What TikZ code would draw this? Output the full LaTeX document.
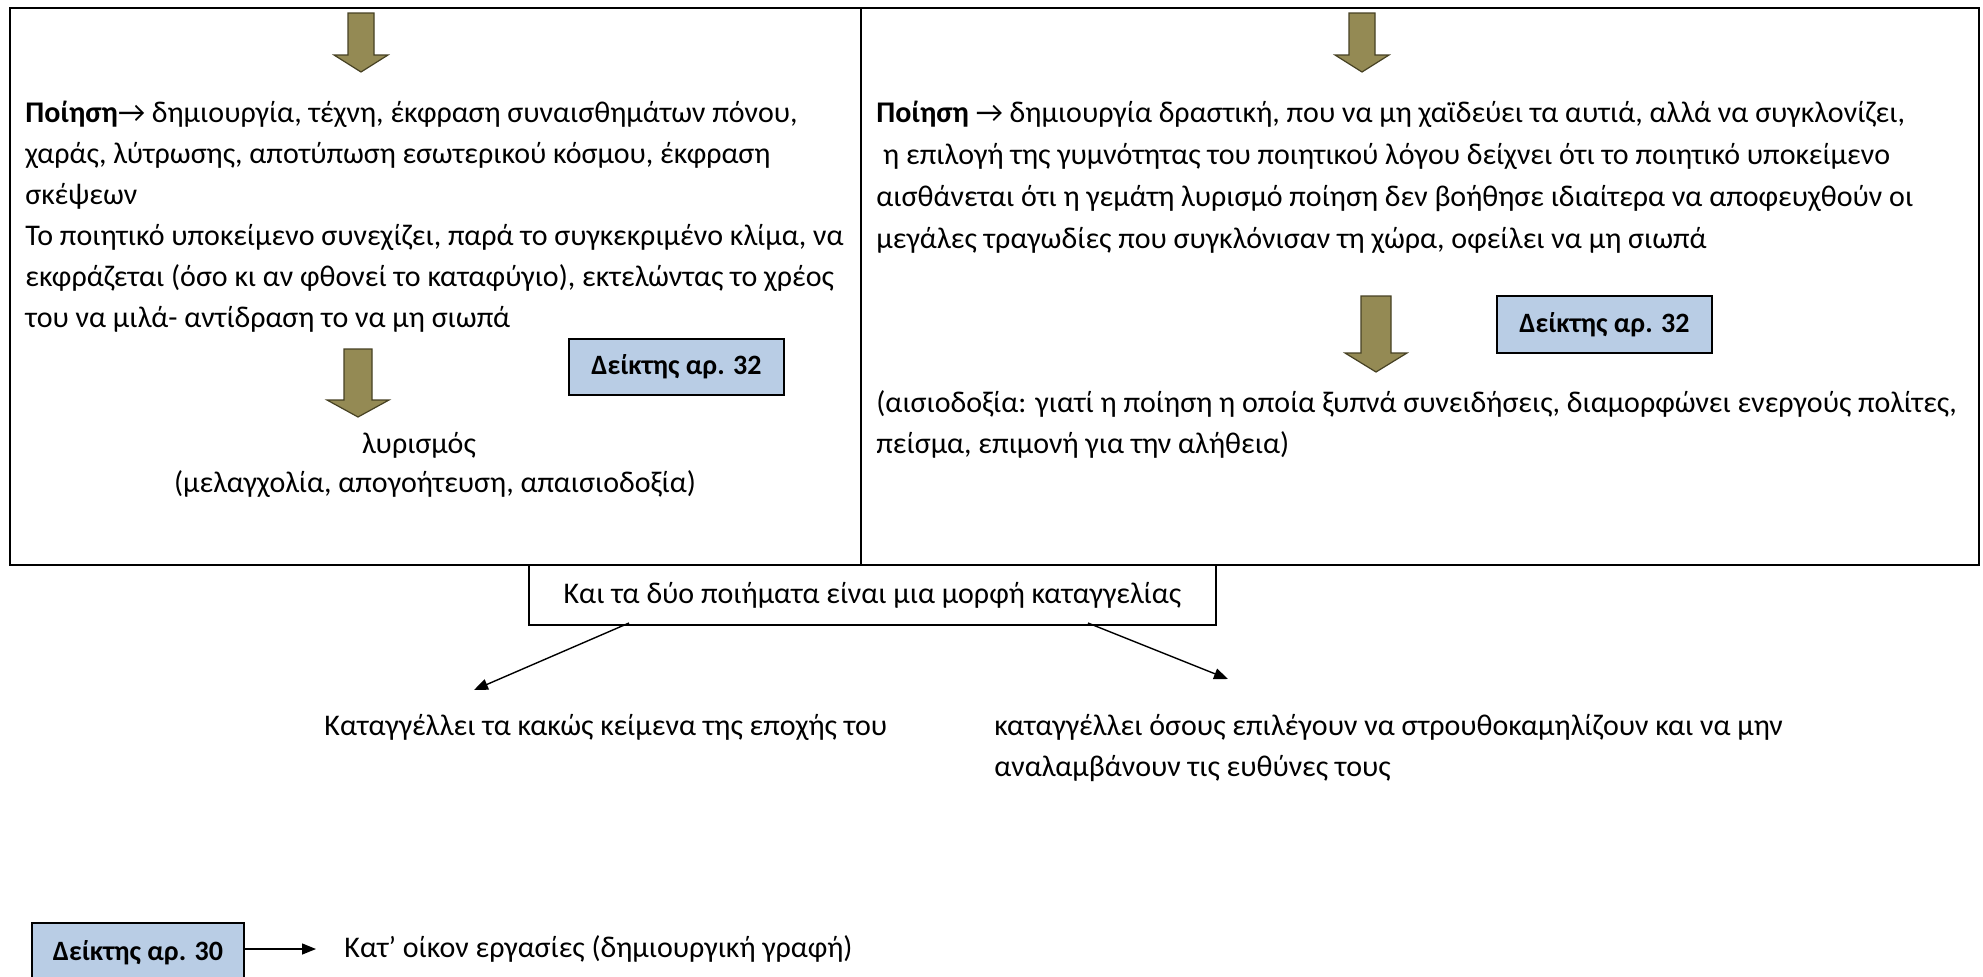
\documentclass[tikz,border=0pt]{standalone}
\usepackage{fontspec}
\setmainfont{Carlito}
\usetikzlibrary{arrows.meta}
\definecolor{olivefill}{RGB}{148,138,84}
\definecolor{oliveline}{RGB}{70,65,35}
\definecolor{tagblue}{RGB}{185,205,229}
\newcommand\dnarrow[6]{\draw[blockarrow] (#1-#5,#2) -- (#1+#5,#2) -- (#1+#5,#3) -- (#1+#6,#3) -- (#1,#4) -- (#1-#6,#3) -- (#1-#5,#3) -- cycle;}
\tikzset{
  blockarrow/.style={fill=olivefill, draw=oliveline, line width=0.6pt, line join=miter},
  bodyline/.style={anchor=base west, inner sep=0pt, font=\fontsize{15}{20}\selectfont},
  centerline/.style={anchor=base, inner sep=0pt, font=\fontsize{15}{20}\selectfont},
  tagbox/.style={draw=black, fill=tagblue, line width=0.9pt, inner sep=0pt, font=\fontsize{14}{16}\selectfont\bfseries},
  frameline/.style={draw=black, line width=1.2pt},
  thinarrow/.style={draw=black, line width=0.7pt, -{Triangle[length=7pt,width=5.5pt]}}
}
\begin{document}
\begin{tikzpicture}[x=0.5pt,y=-0.5pt]
\useasboundingbox (0,0) rectangle (1983,976);
% outer frame
\draw[frameline] (10,8) rectangle (1979,565);
\draw[black, line width=0.6pt] (861,8) -- (861,565);
% top arrows
\dnarrow{361}{13}{55}{72}{13}{27}
\dnarrow{1362}{13}{55}{72}{13}{27}
% left cell text
\node[bodyline] (l1) at (25,122) {\textbf{Ποίηση}→ δημιουργία, τέχνη, έκφραση συναισθημάτων πόνου,};
\node[bodyline] (l2) at (25,163) {χαράς, λύτρωσης, αποτύπωση εσωτερικού κόσμου, έκφραση};
\node[bodyline] (l3) at (25,204) {σκέψεων};
\node[bodyline] (l4) at (25,245) {Το ποιητικό υποκείμενο συνεχίζει, παρά το συγκεκριμένο κλίμα, να};
\node[bodyline] (l5) at (25,286) {εκφράζεται (όσο κι αν φθονεί το καταφύγιο), εκτελώντας το χρέος};
\node[bodyline] (l6) at (25,327) {του να μιλά- αντίδραση το να μη σιωπά};
\dnarrow{358}{349}{400}{417}{14}{31}
\node[tagbox, minimum width=107.5pt, minimum height=28pt] (tag32a) at (676.5,367) {Δείκτης αρ. 32};
\node[centerline] (lyr1) at (419,453) {λυρισμός};
\node[centerline] (lyr2) at (435,492) {(μελαγχολία, απογοήτευση, απαισιοδοξία)};
% right cell text
\node[bodyline] (r1) at (876,122) {\textbf{Ποίηση} → δημιουργία δραστική, που να μη χαϊδεύει τα αυτιά, αλλά να συγκλονίζει,};
\node[bodyline] (r2) at (876,164) {\ η επιλογή της γυμνότητας του ποιητικού λόγου δείχνει ότι το ποιητικό υποκείμενο};
\node[bodyline] (r3) at (876,206) {αισθάνεται ότι η γεμάτη λυρισμό ποίηση δεν βοήθησε ιδιαίτερα να αποφευχθούν οι};
\node[bodyline] (r4) at (876,248) {μεγάλες τραγωδίες που συγκλόνισαν τη χώρα, οφείλει να μη σιωπά};
\dnarrow{1376}{296}{353}{372}{15}{31}
\node[tagbox, minimum width=107.5pt, minimum height=28.5pt] (tag32b) at (1604.5,324.5) {Δείκτης αρ. 32};
\node[bodyline] (r5) at (876,412) {(αισιοδοξία: γιατί η ποίηση η οποία ξυπνά συνειδήσεις, διαμορφώνει ενεργούς πολίτες,};
\node[bodyline] (r6) at (876,453) {πείσμα, επιμονή για την αλήθεια)};
% bottom summary box
\node[draw=black, fill=white, line width=0.8pt, minimum width=343.5pt, minimum height=30pt, inner sep=0pt, font=\fontsize{15}{20}\selectfont] (sum) at (872.5,595) {Και τα δύο ποιήματα είναι μια μορφή καταγγελίας};
\coordinate (sumL) at (629,623);
\coordinate (sumR) at (1088,623);
\coordinate (endL) at (474,690);
\coordinate (endR) at (1228,679);
\draw[thinarrow] (sumL) -- (endL);
\draw[thinarrow] (sumR) -- (endR);
\node[bodyline] (b1) at (324,735) {Καταγγέλλει τα κακώς κείμενα της εποχής του};
\node[bodyline] (b2) at (994,735) {καταγγέλλει όσους επιλέγουν να στρουθοκαμηλίζουν και να μην};
\node[bodyline] (b3) at (994,776) {αναλαμβάνουν τις ευθύνες τους};
% bottom tag
\node[tagbox, minimum width=106pt, minimum height=30pt] (tag30) at (138,953) {Δείκτης αρ. 30};
\coordinate (hwEnd) at (316,949);
\draw[thinarrow] (tag30.east |- hwEnd) -- (hwEnd);
\node[bodyline] (hw) at (344,957) {Κατ’ οίκον εργασίες (δημιουργική γραφή)};
\end{tikzpicture}
\end{document}
